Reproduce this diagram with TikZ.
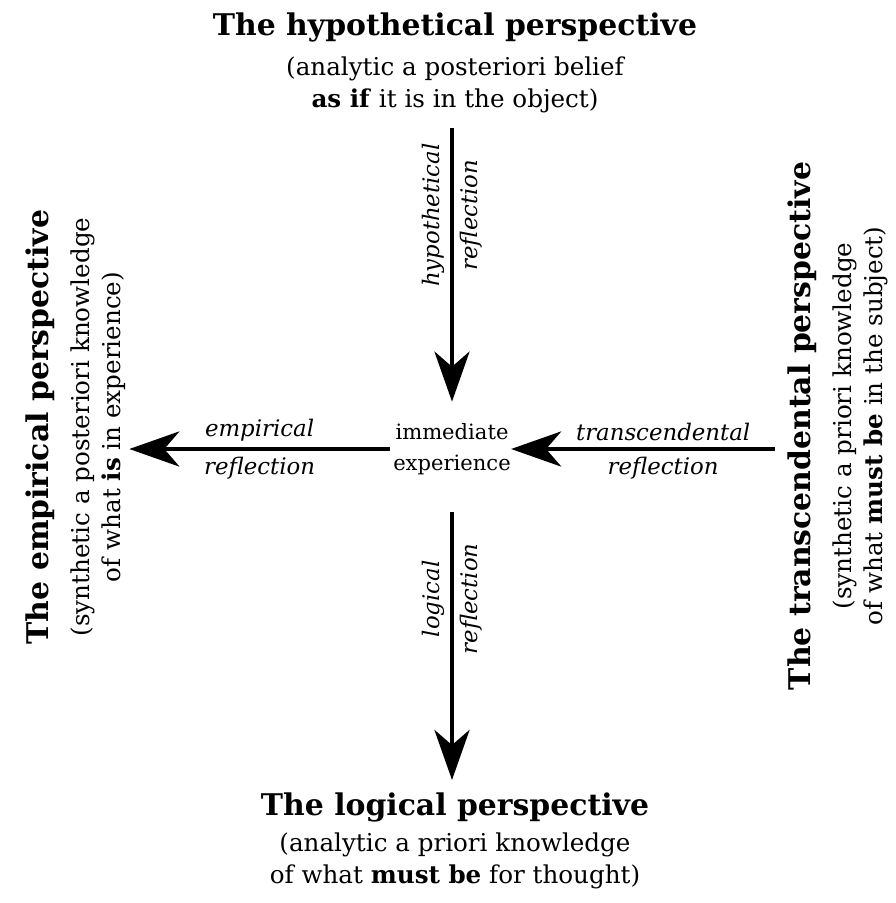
\documentclass[tikz,border=0pt]{standalone}
\usepackage{fontspec}
\setmainfont{DejaVu Serif}
\usetikzlibrary{arrows.meta}

\newcommand{\ptitle}[1]{{\fontsize{17}{21}\selectfont\bfseries #1}}

\begin{document}
\begin{tikzpicture}[x=0.02cm,y=-0.02cm,
  persp/.style={align=center, font=\fontsize{14}{18}\selectfont, inner sep=0pt},
  refl/.style={-{Stealth[length=1cm,width=0.7cm,inset=0.3cm]}, line width=2.8pt},
  lab/.style={font=\fontsize{13}{16}\selectfont\itshape, inner sep=3pt}]

 \useasboundingbox (0,0) rectangle (896,903);

 % Centre of the scheme
 \node [persp, font=\fontsize{12}{18}\selectfont] (exp) at (452,449) {immediate\\experience};

 % The four perspectives
 \node [persp, anchor=north] (hyp) at (455,12)
   {\ptitle{The hypothetical perspective}\\[5pt]
    (analytic a posteriori belief\\
    \textbf{as if} it is in the object)};
 \node [persp, rotate=90] (emp) at (76,427)
   {\ptitle{The empirical perspective}\\[5pt]
    (synthetic a posteriori knowledge\\
    of what \textbf{is} in experience)};
 \node [persp, rotate=90] (trans) at (838,426)
   {\ptitle{The transcendental perspective}\\[5pt]
    (synthetic a priori knowledge\\
    of what \textbf{must be} in the subject)};
 \node [persp, anchor=north] (log) at (455,792)
   {\ptitle{The logical perspective}\\[3pt]
    (analytic a priori knowledge\\
    of what \textbf{must be} for thought)};

 % Reflections
 \draw [refl, shorten <=0.3cm, shorten >=0.42cm] (hyp.south -| exp) -- (exp.north)
   node [lab, pos=0.33, rotate=90, anchor=south] {hypothetical}
   node [lab, pos=0.33, rotate=90, anchor=north] {reflection};
 \draw [refl, shorten <=0.26cm] (exp -| trans.north) -- (exp.east)
   node [lab, pos=0.45, above] {transcendental}
   node [lab, pos=0.45, below] {reflection};
 \draw [refl, shorten <=0.06cm, shorten >=0.06cm] (exp.west) -- (exp -| emp.south)
   node [lab, midway, above] {empirical}
   node [lab, midway, below] {reflection};
 \draw [refl, shorten <=0.74cm, shorten >=0.24cm] (exp.south) -- (log.north -| exp)
   node [lab, pos=0.39, rotate=90, anchor=south] {logical}
   node [lab, pos=0.39, rotate=90, anchor=north] {reflection};

\end{tikzpicture}
\end{document}
